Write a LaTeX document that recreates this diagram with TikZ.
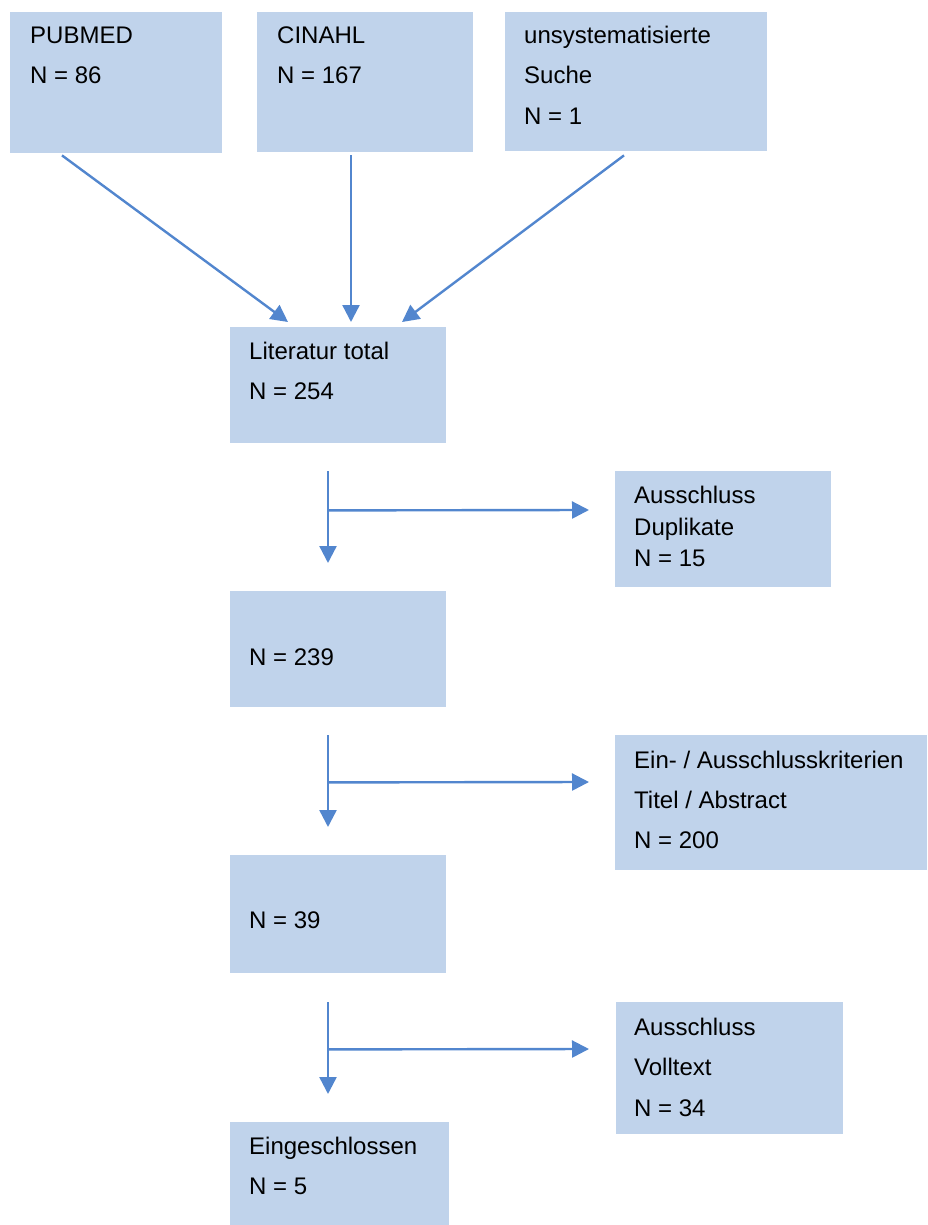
\documentclass[tikz,border=0pt]{standalone}
\usepackage{fontspec}
\setmainfont{Liberation Sans}
\usetikzlibrary{arrows.meta}
\definecolor{boxfill}{RGB}{192,211,235}
\definecolor{linec}{RGB}{82,134,206}
\tikzset{
  box/.style={fill=boxfill, draw=none, inner sep=0pt, anchor=north west},
  txt/.style={anchor=base west, inner sep=0pt, font=\fontsize{24}{28}\selectfont},
  arr/.style={draw=linec, line width=2.4pt, -{Triangle[length=17pt,width=17pt]}}
}
\begin{document}
\begin{tikzpicture}[x=1pt,y=-1pt]
\useasboundingbox (0,0) rectangle (927,1225);
% boxes
\node[box, minimum width=212pt, minimum height=141pt] (pub) at (10,12) {};
\node[box, minimum width=216pt, minimum height=140pt] (cin) at (257,12) {};
\node[box, minimum width=262pt, minimum height=139pt] (uns) at (505,12) {};
\node[box, minimum width=216pt, minimum height=116pt] (lit) at (230,327) {};
\node[box, minimum width=216pt, minimum height=116pt] (dup) at (615,471) {};
\node[box, minimum width=216pt, minimum height=116pt] (n239) at (230,591) {};
\node[box, minimum width=312pt, minimum height=135pt] (ein) at (615,735) {};
\node[box, minimum width=216pt, minimum height=118pt] (n39) at (230,855) {};
\node[box, minimum width=227pt, minimum height=132pt] (voll) at (616,1002) {};
\node[box, minimum width=219pt, minimum height=103pt] (eing) at (230,1122) {};
% texts
\node[txt] (pubA) at (30,44) {PUBMED};
\node[txt] (pubB) at (30,84) {N = 86};
\node[txt] (cinA) at (277,44) {CINAHL};
\node[txt] (cinB) at (277,84) {N = 167};
\node[txt] (unsA) at (524,44) {unsystematisierte};
\node[txt] (unsB) at (524,84) {Suche};
\node[txt] (unsC) at (524,125) {N = 1};
\node[txt] (litA) at (249,359) {Literatur total};
\node[txt] (litB) at (249,399) {N = 254};
\node[txt] (dupA) at (634,503) {Ausschluss};
\node[txt] (dupB) at (634,535) {Duplikate};
\node[txt] (dupC) at (634,566) {N = 15};
\node[txt] (n239A) at (249,665) {N = 239};
\node[txt] (einA) at (634,768) {Ein- / Ausschlusskriterien};
\node[txt] (einB) at (634,808) {Titel / Abstract};
\node[txt] (einC) at (634,848) {N = 200};
\node[txt] (n39A) at (249,928) {N = 39};
\node[txt] (vollA) at (634,1035) {Ausschluss};
\node[txt] (vollB) at (634,1075) {Volltext};
\node[txt] (vollC) at (634,1116) {N = 34};
\node[txt] (eingA) at (249,1154) {Eingeschlossen};
\node[txt] (eingB) at (249,1194) {N = 5};
% top connectors
\draw[arr] ([shift={(52,2)}]pub.south west) -- ([shift={(58,-5)}]lit.north west);
\draw[arr] ([shift={(94,3)}]cin.south west) -- ([shift={(121,-5)}]lit.north west);
\draw[arr] ([shift={(119,4)}]uns.south west) -- ([shift={(172,-5)}]lit.north west);
% step 1
\coordinate (b1) at ([shift={(98,67)}]lit.south west);
\draw[arr] ([shift={(98,28)}]lit.south west) -- ([shift={(98,-28)}]n239.north west);
\draw[arr] (b1) -- ([shift={(-26,39)}]dup.north west);
% step 2
\coordinate (b2) at ([shift={(98,75)}]n239.south west);
\draw[arr] ([shift={(98,28)}]n239.south west) -- ([shift={(98,-28)}]n39.north west);
\draw[arr] (b2) -- ([shift={(-26,47)}]ein.north west);
% step 3
\coordinate (b3) at ([shift={(98,76)}]n39.south west);
\draw[arr] ([shift={(98,29)}]n39.south west) -- ([shift={(98,-28)}]eing.north west);
\draw[arr] (b3) -- ([shift={(-27,47)}]voll.north west);
\end{tikzpicture}
\end{document}
